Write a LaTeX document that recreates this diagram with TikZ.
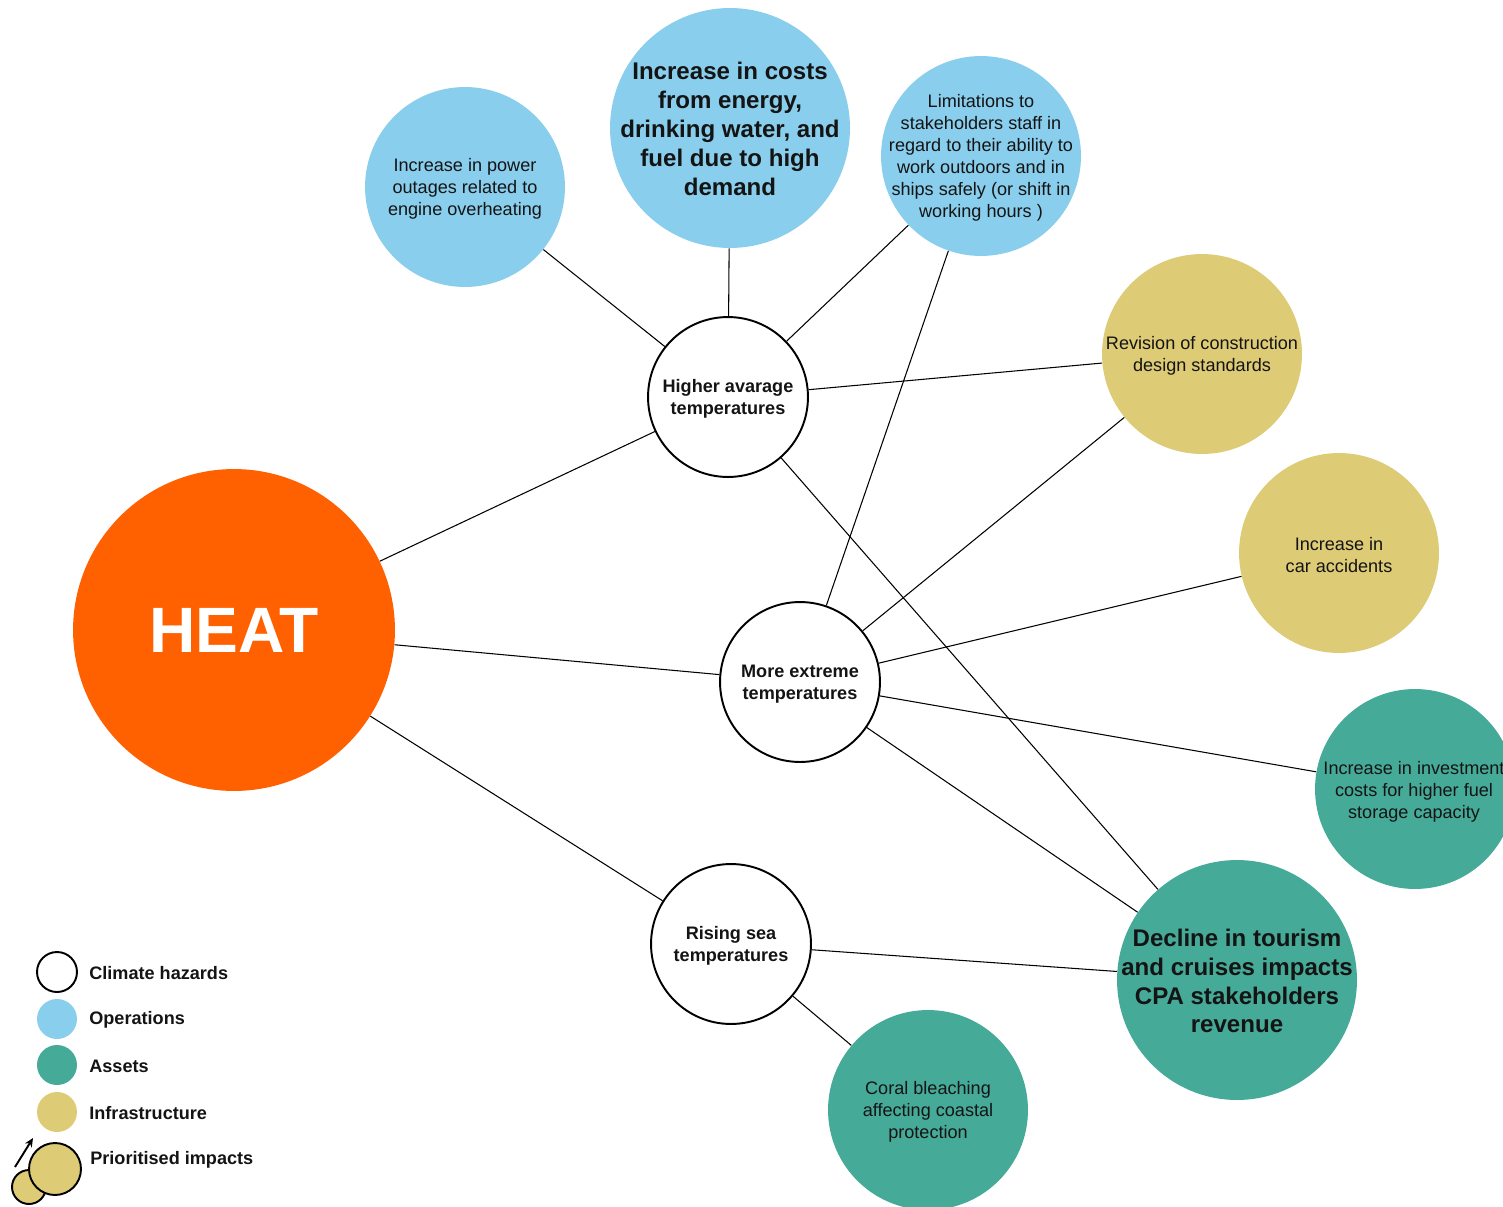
\documentclass[tikz,border=0pt]{standalone}
\usepackage{fontspec}
\setmainfont{Liberation Sans}
\usetikzlibrary{arrows.meta}
\definecolor{opblue}{RGB}{137,206,236}
\definecolor{assetteal}{RGB}{69,170,152}
\definecolor{infrayel}{RGB}{221,203,118}
\definecolor{heatorange}{RGB}{255,96,0}
\definecolor{txtgray}{RGB}{20,20,20}
\begin{document}
\begin{tikzpicture}[x=0.02cm,y=-0.02cm,
  blob/.style={circle,inner sep=0pt,minimum size=#1*0.04cm},
  hazard/.style={blob=#1,draw=black,line width=1.1pt,fill=white},
  haztxt/.style={align=center,yshift=-0.04cm,
    font=\fontsize{10.3}{12.5}\selectfont\bfseries,text=txtgray},
  ops/.style={blob=#1,fill=opblue},
  asset/.style={blob=#1,fill=assetteal},
  infra/.style={blob=#1,fill=infrayel},
  txt/.style={align=center,yshift=-0.04cm,font=\fontsize{10.3}{12.5}\selectfont,text=txtgray},
  bigtxt/.style={align=center,yshift=-0.02cm,font=\fontsize{13.7}{16.4}\selectfont\bfseries,text=txtgray},
  legtxt/.style={anchor=west,inner sep=0pt,font=\fontsize{10.3}{12.5}\selectfont\bfseries,text=txtgray},
  link/.style={draw=black,line width=0.6pt},
]
\useasboundingbox (0,0) rectangle (1503,1206);
\clip (0,0) rectangle (1503,1206);
\fill[white] (0,0) rectangle (1503,1206);

% main hazard
\node[blob=161,fill=heatorange,text=white,font=\fontsize{36.5}{40}\selectfont\bfseries] (heat) at (234,630) {HEAT};

% hazards
\node[hazard=80] (higher) at (728,397) {};
\node[haztxt] at (higher) {Higher avarage\\temperatures};
\node[hazard=80] (extreme) at (800,682) {};
\node[haztxt] at (extreme) {More extreme\\temperatures};
\node[hazard=80] (rising) at (731,944) {};
\node[haztxt] at (rising) {Rising sea\\temperatures};

% operations
\node[ops=100] (outage) at (465,187) {};
\node[txt] at (outage) {Increase in power\\outages related to\\engine overheating};
\node[ops=120] (costs) at (730,128) {};
\node[bigtxt] at (costs) {Increase in costs\\from energy,\\drinking water, and\\fuel due to high\\demand};
\node[ops=100] (limit) at (981,156) {};
\node[txt] at (limit) {Limitations to\\stakeholders staff in\\regard to their ability to\\work outdoors and in\\ships safely (or shift in\\working hours )};

% infrastructure
\node[infra=100] (revision) at (1202,354) {};
\node[txt] at (revision) {Revision of construction\\design standards};
\node[infra=100] (car) at (1339,553) {};
\node[txt] at (car) {Increase in\\car accidents};

% assets
\node[asset=100] (invest) at (1415,789) {};
\node[txt] at (1414,790) {Increase in investment\\costs for higher fuel\\storage capacity};
\node[asset=120] (decline) at (1237,980) {};
\node[bigtxt] at (decline) {Decline in tourism\\and cruises impacts\\CPA stakeholders\\revenue};
\node[asset=100] (coral) at (928,1110) {};
\node[txt] at (coral) {Coral bleaching\\affecting coastal\\protection};

% connectors
\draw[link] (heat) -- (higher);
\draw[link] (heat) -- (extreme);
\draw[link] (heat) -- (rising);
\draw[link] (higher) -- (outage);
\draw[link] (higher) -- (costs);
\draw[link] (higher) -- (limit);
\draw[link] (higher) -- (revision);
\draw[link] (higher) -- (decline);
\draw[link] (extreme) -- (limit);
\draw[link] (extreme) -- (revision);
\draw[link] (extreme) -- (car);
\draw[link] (extreme) -- (invest);
\draw[link] (extreme) -- (decline);
\draw[link] (rising) -- (decline);
\draw[link] (rising) -- (coral);

% legend
\node[blob=20,draw=black,line width=1.1pt,fill=white] (lhaz) at (57,972) {};
\node[legtxt] (lhazt) at (89,973) {Climate hazards};
\node[ops=20] (lops) at (57,1019) {};
\node[legtxt] (lopst) at (89,1020) {Operations};
\node[asset=20] (lass) at (57,1065) {};
\node[legtxt] (lasst) at (89,1066) {Assets};
\node[infra=20] (linf) at (57,1112) {};
\node[legtxt] (linft) at (89,1113) {Infrastructure};
\node[infra=17,draw=black,line width=1.1pt] (lsmall) at (29,1187) {};
\node[infra=26,draw=black,line width=1.1pt] (lbig) at (55,1169) {};
\coordinate (arrA) at (15,1167);
\coordinate (arrB) at (33,1138);
\draw[line width=1.1pt,-{Stealth[length=5pt,width=4.5pt]}] (arrA) -- (arrB);
\node[legtxt] (lprit) at (90,1160) {Prioritised impacts};
\end{tikzpicture}
\end{document}
